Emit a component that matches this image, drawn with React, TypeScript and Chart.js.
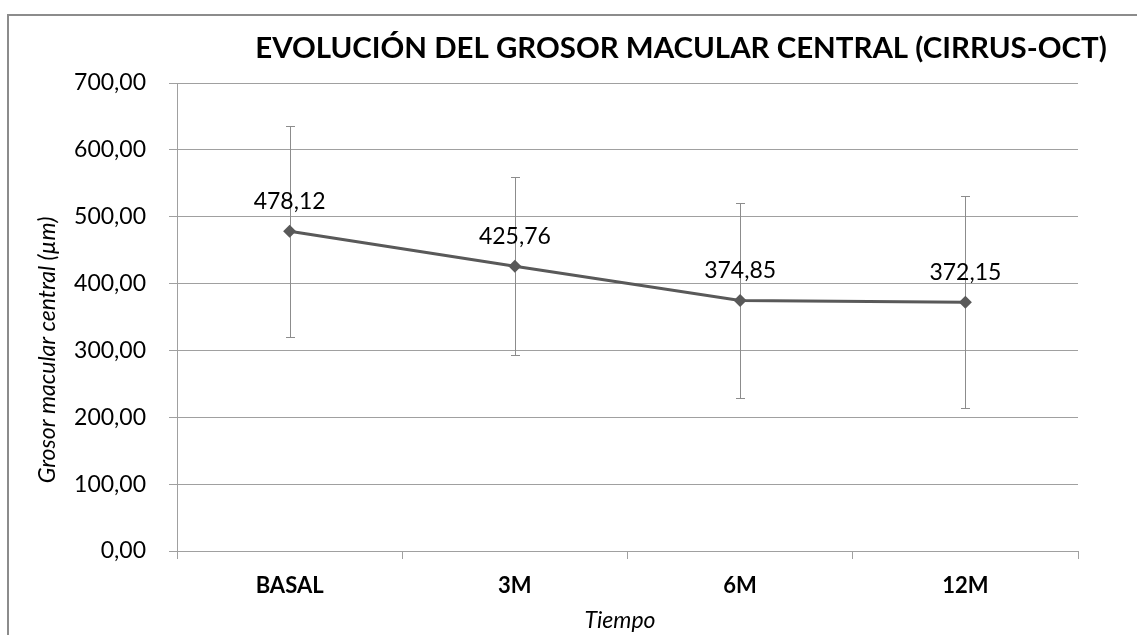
import React, { useEffect, useRef } from "react";
import { Chart, registerables } from "chart.js";

Chart.register(...registerables);

const categories = ["BASAL", "3M", "6M", "12M"];
const means = [478.12, 425.76, 374.85, 372.15];
const sds = [158.0, 133.0, 145.8, 158.7];
const yMin = 0;
const yMax = 700;
const yStep = 100;
const chartTitle = "EVOLUCIÓN DEL GROSOR MACULAR CENTRAL (CIRRUS-OCT)";
const yTitle = "Grosor macular central (µm)";
const xTitle = "Tiempo";

const FONT = "Lato, 'Open Sans', sans-serif";
const fmt = (v: number) => v.toFixed(2).replace(".", ",");

const framePlugin = {
  id: "frame",
  beforeDraw(chart: any) {
    const ctx = chart.ctx;
    ctx.save();
    ctx.fillStyle = "#ffffff";
    ctx.fillRect(0, 0, chart.width, chart.height);
    ctx.strokeStyle = "#8c8c8c";
    ctx.lineWidth = 2;
    ctx.strokeRect(8, 15, chart.width + 20, chart.height + 20);
    ctx.restore();
  },
};

const errorBarPlugin = {
  id: "errorBars",
  beforeDatasetsDraw(chart: any) {
    const ctx = chart.ctx;
    const y = chart.scales.y;
    const meta = chart.getDatasetMeta(0);
    ctx.save();
    ctx.strokeStyle = "#8c8c8c";
    ctx.lineWidth = 1;
    meta.data.forEach((pt: any, i: number) => {
      const x = Math.round(pt.x) + 0.5;
      const top = Math.round(y.getPixelForValue(means[i] + sds[i])) + 0.5;
      const bot = Math.round(y.getPixelForValue(means[i] - sds[i])) + 0.5;
      ctx.beginPath();
      ctx.moveTo(x, top);
      ctx.lineTo(x, bot);
      ctx.moveTo(x - 4.5, top);
      ctx.lineTo(x + 4.5, top);
      ctx.moveTo(x - 4.5, bot);
      ctx.lineTo(x + 4.5, bot);
      ctx.stroke();
    });
    ctx.restore();
  },
};

const labelsPlugin = {
  id: "textLayer",
  afterDatasetsDraw(chart: any) {
    const ctx = chart.ctx;
    const meta = chart.getDatasetMeta(0);
    ctx.save();
    ctx.fillStyle = "#000000";
    ctx.font = `23px ${FONT}`;
    ctx.textAlign = "center";
    ctx.textBaseline = "alphabetic";
    meta.data.forEach((pt: any, i: number) => {
      ctx.fillText(fmt(means[i]), pt.x, pt.y - 22);
    });
    ctx.restore();
  },
  afterDraw(chart: any) {
    const ctx = chart.ctx;
    ctx.save();
    ctx.fillStyle = "#000000";
    // main title, fitted to the reference width
    let size = 30;
    ctx.font = `bold ${size}px ${FONT}`;
    const w = ctx.measureText(chartTitle).width;
    size = Math.min(32, (size * 852) / w);
    ctx.font = `bold ${size}px ${FONT}`;
    ctx.textAlign = "center";
    ctx.textBaseline = "alphabetic";
    ctx.fillText(chartTitle, 681, 57.5);

    // x axis title
    ctx.font = `italic 23px ${FONT}`;
    ctx.fillText(xTitle, 620, 627.5);

    // y axis title
    ctx.translate(55, 350);
    ctx.rotate(-Math.PI / 2);
    ctx.fillText(yTitle, 0, 0);
    ctx.restore();
  },
};

export default function App() {
  const ref = useRef<HTMLCanvasElement | null>(null);

  useEffect(() => {
    document.body.style.margin = "0";
    if (!ref.current) return;
    const chart = new Chart(ref.current, {
      type: "line",
      data: {
        labels: categories,
        datasets: [
          {
            data: means,
            borderColor: "#595959",
            backgroundColor: "#595959",
            borderWidth: 3,
            tension: 0,
            pointStyle: "rectRot",
            pointRadius: 6.5,
            pointBorderWidth: 0,
            pointBackgroundColor: "#595959",
            fill: false,
          },
        ],
      },
      options: {
        responsive: false,
        animation: false,
        layout: { padding: { top: 83, right: 59, left: 0, bottom: 0 } },
        plugins: {
          legend: { display: false },
          tooltip: { enabled: false },
          title: { display: false },
        },
        scales: {
          x: {
            offset: true,
            grid: {
              offset: true,
              drawOnChartArea: false,
              drawTicks: true,
              tickLength: 8,
              color: "#a0a0a0",
            },
            border: { color: "#a0a0a0" },
            ticks: {
              color: "#000000",
              font: { family: FONT, size: 22, weight: "bold" },
              padding: 14,
            },
            afterFit(scale: any) {
              scale.height = 84;
            },
          },
          y: {
            min: yMin,
            max: yMax,
            ticks: {
              stepSize: yStep,
              color: "#000000",
              font: { family: FONT, size: 23 },
              padding: 23,
              callback: (v: any) => fmt(Number(v)),
            },
            grid: { color: "#a0a0a0", tickLength: 8 },
            border: { color: "#a0a0a0" },
            afterFit(scale: any) {
              scale.width = 177;
            },
          },
        },
      },
      plugins: [framePlugin, errorBarPlugin, labelsPlugin],
    });
    return () => chart.destroy();
  }, []);

  return (
    <div style={{ width: 1137, height: 635 }}>
      <canvas ref={ref} width={1137} height={635} style={{ display: "block" }} />
    </div>
  );
}
